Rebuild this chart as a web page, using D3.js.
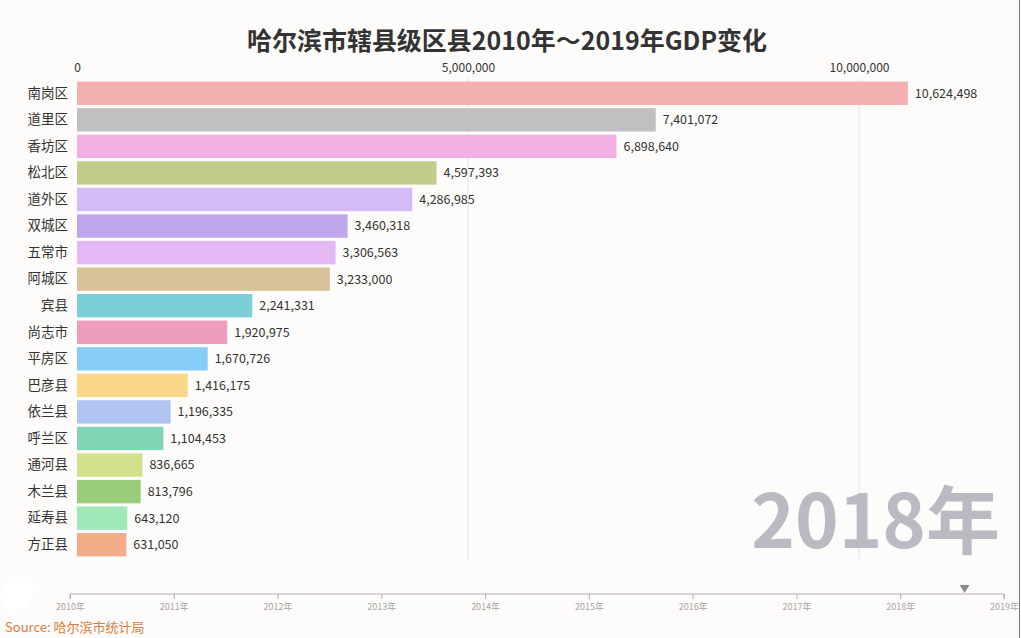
<!DOCTYPE html>
<html><head><meta charset="utf-8">
<script src="https://cdn.jsdelivr.net/npm/d3@7"></script>
<style>
html,body{margin:0;padding:0;background:#fefcfa;}
svg{display:block;font-family:"Noto Sans CJK SC","Noto Sans",sans-serif;}
</style></head>
<body><svg id="c" width="1021" height="638"></svg>
<script>
const categories = ["南岗区","道里区","香坊区","松北区","道外区","双城区","五常市","阿城区","宾县","尚志市","平房区","巴彦县","依兰县","呼兰区","通河县","木兰县","延寿县","方正县"];
const values = [10624498,7401072,6898640,4597393,4286985,3460318,3306563,3233000,2241331,1920975,1670726,1416175,1196335,1104453,836665,813796,643120,631050];
const colors = ["#f4b0b0","#c1bfc1","#f0b0e4","#c4cc8c","#d4bcf8","#c0a6ec","#e4b8f4","#d9c19a","#7ccfd8","#f09cbe","#88ccf8","#f8d888","#b0c4f4","#80d6b4","#d4e08a","#98cc78","#a0e8b8","#f4ac88"];
const xTicks = [0,5000000,10000000];
const years = ["2010年","2011年","2012年","2013年","2014年","2015年","2016年","2017年","2018年","2019年"];
const currentYear = "2018年";
const title = "哈尔滨市辖县级区县2010年～2019年GDP变化";
const source = "Source: 哈尔滨市统计局";

const svg = d3.select("#c");
const fmt = d3.format(",");

const x = d3.scaleLinear().domain([0,10000000]).range([77,859]);
const y = d3.scaleBand().domain(categories).range([80,558]).paddingInner(0.12).paddingOuter(0.06);

// title
svg.append("text").attr("x",507).attr("y",50).attr("text-anchor","middle")
  .attr("font-size",25).attr("font-weight","bold").attr("fill","#333")
  .attr("textLength",520).attr("lengthAdjust","spacingAndGlyphs").text(title);

// gridlines
svg.append("g").selectAll("line").data(xTicks.slice(1)).join("line")
  .attr("x1",d=>x(d)).attr("x2",d=>x(d)).attr("y1",78).attr("y2",560)
  .attr("stroke","#e6e4e4").attr("stroke-width",1);

// top axis
const ax = svg.append("g").attr("transform","translate(0,75)")
  .call(d3.axisTop(x).tickValues(xTicks).tickFormat(fmt).tickSize(0));
ax.select(".domain").remove();
ax.selectAll("text").attr("font-size",12).attr("fill","#333").attr("font-family","'Noto Sans CJK SC',sans-serif");

// big year label
svg.append("text").attr("x",1000).attr("y",548).attr("text-anchor","end")
  .attr("font-size",74).attr("font-weight","bold").attr("fill","#babac2").text(currentYear);

// bars
const g = svg.append("g");
g.selectAll("rect").data(values).join("rect")
  .attr("x",x(0)).attr("y",(d,i)=>y(categories[i]))
  .attr("width",d=>x(d)-x(0)).attr("height",y.bandwidth())
  .attr("fill",(d,i)=>colors[i]);

// category labels
const ay = svg.append("g").attr("transform",`translate(${x(0)-6},0)`)
  .call(d3.axisLeft(y).tickSize(0));
ay.select(".domain").remove();
ay.selectAll("text").attr("font-size",13.5).attr("fill","#333").attr("font-family","'Noto Sans CJK SC',sans-serif");

// value labels
g.selectAll("text.v").data(values).join("text").attr("class","v")
  .attr("x",d=>x(d)+7).attr("y",(d,i)=>y(categories[i])+y.bandwidth()/2)
  .attr("dy","0.35em").attr("font-size",12.5).attr("fill","#333").text(d=>fmt(d));

// timeline
const t = d3.scalePoint().domain(years).range([70,1004]);
const tl = svg.append("g").attr("transform","translate(0,594)")
  .call(d3.axisBottom(t).tickSize(5).tickSizeOuter(0));
tl.select(".domain").attr("stroke","#b4b0b0").attr("d","M70,5V0H1004V5");
tl.selectAll(".tick line").attr("stroke","#b4b0b0").attr("y1",0).attr("y2",5);
tl.selectAll("text").attr("font-size",9).attr("fill","#a8a4a4").attr("dy","0.9em").attr("font-family","'Noto Sans CJK SC',sans-serif");

// play marker
const mx = t("2018年") + (t("2019年")-t("2018年"))*0.62;
svg.append("path").attr("d",`M${mx-5},585L${mx+5},585L${mx},593Z`).attr("fill","#8a8a8a");

// play button circle
svg.append("circle").attr("cx",17).attr("cy",593).attr("r",16).attr("fill","#ffffff");

// source
svg.append("text").attr("x",5).attr("y",632).attr("font-size",13).attr("fill","#e07a3c").text(source);

// right border
svg.append("line").attr("x1",1019.5).attr("x2",1019.5).attr("y1",0).attr("y2",638).attr("stroke","#777").attr("stroke-width",1);
</script></body></html>
